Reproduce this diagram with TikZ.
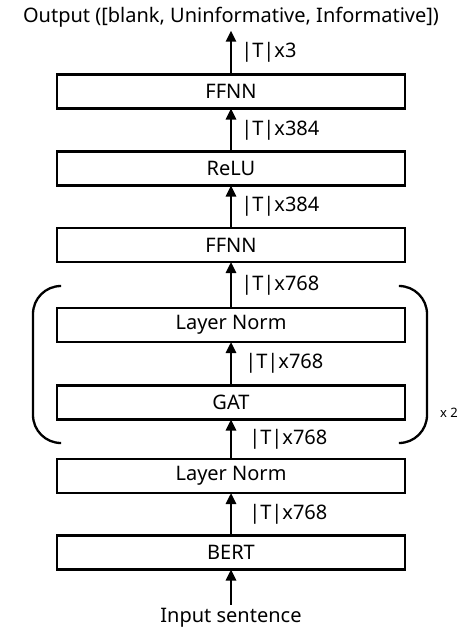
\documentclass[tikz,border=0pt]{standalone}
\usepackage{fontspec}
\setmainfont{Noto Sans}
\usetikzlibrary{arrows.meta,positioning}

\begin{document}
\begin{tikzpicture}[
  x=1pt, y=-1pt,
  font=\fontsize{20}{24}\selectfont,
  blk/.style={draw, line width=2.6pt, outer sep=0pt, minimum width=348pt, minimum height=34pt, inner sep=0pt},
  arr/.style={-{Triangle[length=11pt,width=10pt]}, line width=2.6pt},
  dim/.style={anchor=west, inner sep=0pt},
  brk/.style={line width=2.3pt, rounded corners=28pt}
]
\useasboundingbox (0,0) rectangle (463,632);
% stack, bottom to top
\node[blk] (bert) at (231,552.5) {BERT};
\node[blk, above=42.5pt of bert] (lnin) {Layer Norm};
\node[blk, above=39.5pt of lnin] (gat) {GAT};
\node[blk, above=43.5pt of gat] (lnout) {Layer Norm};
\node[blk, above=46pt of lnout] (ffa) {FFNN};
\node[blk, above=42.5pt of ffa] (relu) {ReLU};
\node[blk, above=43pt of relu] (ffb) {FFNN};
\node (inp) at (231,618) {Input sentence};
\node (outp) at (231,17) {Output ([blank, Uninformative, Informative])};
% flow
\draw[arr] (inp) -- (bert);
\draw[arr] (bert) -- node[dim, midway, xshift=17pt] {|T|x768} (lnin);
\draw[arr] (lnin) -- node[dim, midway, xshift=17pt] {|T|x768} (gat);
\draw[arr] (gat) -- node[dim, midway, xshift=13pt] {|T|x768} (lnout);
\draw[arr] (lnout) -- node[dim, midway, xshift=9pt] {|T|x768} (ffa);
\draw[arr] (ffa) -- node[dim, midway, xshift=9pt] {|T|x384} (relu);
\draw[arr] (relu) -- node[dim, midway, xshift=9pt] {|T|x384} (ffb);
\draw[arr] (ffb) -- node[dim, midway, xshift=9pt] {|T|x3} (outp);
% repeat brackets
\draw[brk] (58,286) -- (33,286) -- (33,443) -- (58,443);
\draw[brk] (402,286) -- (427,286) -- (427,443) -- (402,443);
\node[font=\fontsize{13}{15}\selectfont] (rep) at (449,413) {x 2};
\end{tikzpicture}
\end{document}
